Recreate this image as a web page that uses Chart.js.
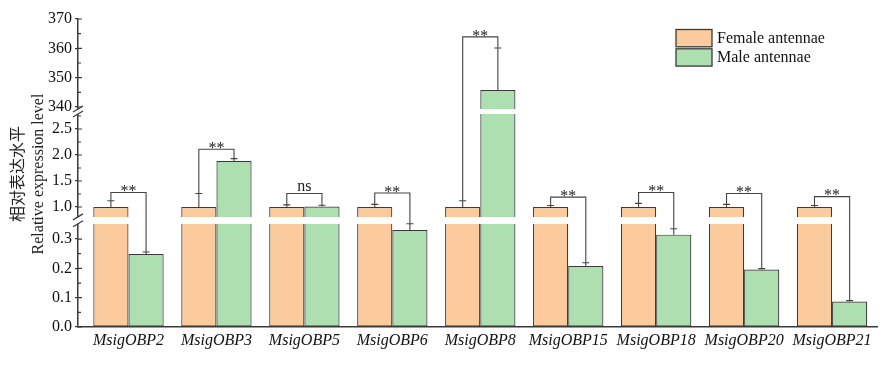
<!DOCTYPE html>
<html>
<head>
<meta charset="utf-8">
<script src="https://cdn.jsdelivr.net/npm/chart.js@4.4.0/dist/chart.umd.min.js"></script>
<style>
  html, body { margin: 0; padding: 0; background: #fff; }
  #wrap { width: 886px; height: 369px; }
</style>
</head>
<body>
<div id="wrap"><canvas id="obp_chart"></canvas></div>
<script>
var genes = ['MsigOBP2', 'MsigOBP3', 'MsigOBP5', 'MsigOBP6', 'MsigOBP8', 'MsigOBP15', 'MsigOBP18', 'MsigOBP20', 'MsigOBP21'];
var female = [1, 1, 1, 1, 1, 1, 1, 1, 1];
var femaleErr = [0.12, 0.26, 0.04, 0.05, 0.12, 0.03, 0.07, 0.05, 0.03];
var male = [0.249, 1.885, 1.01, 0.331, 345.8, 0.208, 0.315, 0.196, 0.087];
var maleErr = [0.007, 0.045, 0.025, 0.021, 14.3, 0.011, 0.02, 0.003, 0.003];
var bracketLevel = [1.28, 2.11, 1.26, 1.27, 363.9, 1.19, 1.28, 1.26, 1.2];
var signif = ['**', '**', 'ns', '**', '**', '**', '**', '**', '**'];

var botTicks = [0, 0.1, 0.2, 0.3];
var midTicks = [1.0, 1.5, 2.0, 2.5];
var topTicks = [340, 350, 360, 370];
var botMinor = [0.05, 0.15, 0.25];
var midMinor = [1.25, 1.75, 2.25, 2.75];
var topMinor = [345, 355, 365];

var femaleColour = '#fbcb9d';
var maleColour = '#aedfb1';
var lineColour = '#3a3a3a';

// the three pieces of the broken y axis (min/max of the scale, lo/hi = where bars are cut)
var segBot = { id: 'yBot', min: 0, max: 0.365, lo: 0, hi: 0.352, weight: 107 };
var segMid = { id: 'yMid', min: 0.75, max: 2.837, lo: 0.81, hi: 2.79, weight: 108.5 };
var segTop = { id: 'yTop', min: 338.47, max: 370, lo: 339.3, hi: Infinity, weight: 92.5 };
var segs = [segBot, segMid, segTop];

function segData(values, seg) {
  return values.map(function (v, i) {
    return { x: i, y: v > seg.lo ? [seg.lo, Math.min(v, seg.hi)] : null };
  });
}

var datasets = [];
[['Female antennae', female, femaleColour], ['Male antennae', male, maleColour]].forEach(function (s) {
  segs.forEach(function (seg) {
    datasets.push({
      label: s[0],
      stack: s[0],
      yAxisID: seg.id,
      data: segData(s[1], seg),
      backgroundColor: s[2],
      borderColor: lineColour,
      borderSkipped: false,
      borderWidth: function (ctx) {
        var v = s[1][ctx.dataIndex];
        return { top: v <= seg.hi ? 1.2 : 0, bottom: seg.lo === 0 ? 1.2 : 0, left: 1.2, right: 1.2 };
      },
      categoryPercentage: 0.8,
      barPercentage: 1.0
    });
  });
});

function yAxis(seg, ticks, fmt) {
  return {
    type: 'linear',
    position: 'left',
    stack: 'y',
    stackWeight: seg.weight,
    offset: false,
    min: seg.min,
    max: seg.max,
    border: { color: lineColour, width: 1.5 },
    grid: { drawOnChartArea: false, drawTicks: true, tickLength: 3, color: lineColour, lineWidth: 1.2 },
    ticks: {
      autoSkip: false,
      padding: 3,
      color: '#111',
      font: { family: 'Liberation Serif', size: 16 },
      callback: function (v) { return fmt(v); }
    },
    afterBuildTicks: function (s) { s.ticks = ticks.map(function (v) { return { value: v }; }); },
    afterFit: function (s) { s.width = 78; }
  };
}

function pyFor(chart) {
  var sb = chart.scales.yBot, sm = chart.scales.yMid, st = chart.scales.yTop;
  return function (v) {
    if (v <= segBot.max) return sb.getPixelForValue(v);
    if (v <= segMid.max) return sm.getPixelForValue(v);
    return st.getPixelForValue(v);
  };
}

var decor = {
  id: 'decor',
  afterDatasetsDraw: function (chart) {
    var ctx = chart.ctx;
    var py = pyFor(chart);
    var ax = chart.chartArea.left;
    ctx.save();

    // axis breaks
    var gaps = [
      [chart.scales.yTop.getPixelForValue(segTop.lo), chart.scales.yMid.getPixelForValue(segMid.hi)],
      [chart.scales.yMid.getPixelForValue(segMid.lo), chart.scales.yBot.getPixelForValue(segBot.hi)]
    ];
    ctx.fillStyle = '#fff';
    gaps.forEach(function (g) { ctx.fillRect(ax - 3, g[0], 6, g[1] - g[0]); });
    ctx.strokeStyle = lineColour;
    ctx.lineWidth = 1.2;
    gaps.forEach(function (g) {
      [g[0], g[1]].forEach(function (y) {
        ctx.beginPath();
        ctx.moveTo(ax - 5, y + 3);
        ctx.lineTo(ax + 5, y - 3);
        ctx.stroke();
      });
    });

    // inner ticks
    [['yBot', botTicks, botMinor], ['yMid', midTicks, midMinor], ['yTop', topTicks, topMinor]].forEach(function (a) {
      var sc = chart.scales[a[0]];
      ctx.beginPath();
      a[1].forEach(function (v) { var y = sc.getPixelForValue(v); ctx.moveTo(ax, y); ctx.lineTo(ax + 4, y); });
      a[2].forEach(function (v) { var y = sc.getPixelForValue(v); ctx.moveTo(ax, y); ctx.lineTo(ax + 3, y); });
      ctx.stroke();
    });

    // error bars and significance brackets
    var fMeta = chart.getDatasetMeta(0), mMeta = chart.getDatasetMeta(3);
    ctx.strokeStyle = '#444';
    ctx.lineWidth = 1.1;
    for (var i = 0; i < genes.length; i++) {
      var xf = fMeta.data[i].x, xm = mMeta.data[i].x;
      var fTop = py(female[i] + femaleErr[i]);
      var mTop = py(male[i] + maleErr[i]);
      ctx.beginPath();
      ctx.moveTo(xf, py(female[i])); ctx.lineTo(xf, fTop);
      ctx.moveTo(xf - 3.5, fTop); ctx.lineTo(xf + 3.5, fTop);
      ctx.moveTo(xm, py(male[i])); ctx.lineTo(xm, mTop);
      ctx.moveTo(xm - 3.5, mTop); ctx.lineTo(xm + 3.5, mTop);
      ctx.stroke();

      var yb = py(bracketLevel[i]);
      ctx.beginPath();
      ctx.moveTo(xf, fTop); ctx.lineTo(xf, yb); ctx.lineTo(xm, yb); ctx.lineTo(xm, mTop);
      ctx.stroke();

      ctx.fillStyle = '#222';
      ctx.textAlign = 'center';
      ctx.textBaseline = 'alphabetic';
      ctx.font = '16px "Liberation Serif"';
      if (signif[i] === 'ns') {
        ctx.fillText('ns', (xf + xm) / 2, yb - 2.6);
      } else {
        ctx.fillText(signif[i], (xf + xm) / 2, yb + 3.7);
      }
    }
    ctx.restore();
  },
  afterDraw: function (chart) {
    var ctx = chart.ctx;
    ctx.save();
    // legend
    var items = [['Female antennae', femaleColour], ['Male antennae', maleColour]];
    items.forEach(function (it, k) {
      var y = 29.5 + k * 19.3;
      ctx.fillStyle = it[1];
      ctx.fillRect(676, y, 36, 17.3);
      ctx.strokeStyle = lineColour;
      ctx.lineWidth = 1.3;
      ctx.strokeRect(676, y, 36, 17.3);
      ctx.fillStyle = '#111';
      ctx.font = '16px "Liberation Serif"';
      ctx.textAlign = 'left';
      ctx.textBaseline = 'middle';
      ctx.fillText(it[0], 717, y + 8.8);
    });
    // y axis title
    ctx.translate(0, 174);
    ctx.rotate(-Math.PI / 2);
    ctx.textAlign = 'center';
    ctx.textBaseline = 'middle';
    ctx.fillStyle = '#222';
    ctx.font = '16px "Noto Sans CJK SC"';
    ctx.fillText('相对表达水平', 0, 16.5);
    ctx.font = '16px "Liberation Serif"';
    ctx.fillText('Relative expression level', 0, 39);
    ctx.restore();
  }
};

var obpChart = new Chart(document.getElementById('obp_chart').getContext('2d'), {
  type: 'bar',
  data: { datasets: datasets },
  options: {
    responsive: true,
    maintainAspectRatio: false,
    animation: false,
    layout: { padding: { top: 19, right: 9, left: 0, bottom: 0 } },
    plugins: { legend: { display: false }, tooltip: { enabled: false } },
    scales: {
      x: {
        type: 'linear',
        offset: false,
        min: -0.574,
        max: 8.511,
        border: { color: lineColour, width: 1.5 },
        grid: { display: true, drawOnChartArea: false, drawTicks: false },
        ticks: {
          autoSkip: false,
          maxRotation: 0,
          padding: 4,
          color: '#111',
          font: { family: 'Liberation Serif', size: 16, style: 'italic' },
          callback: function (v) { return genes[v]; }
        },
        afterBuildTicks: function (s) { s.ticks = genes.map(function (g, i) { return { value: i }; }); },
        afterFit: function (s) { s.height = 42; }
      },
      yBot: yAxis(segBot, botTicks, function (v) { return v.toFixed(1); }),
      yMid: yAxis(segMid, midTicks, function (v) { return v.toFixed(1); }),
      yTop: yAxis(segTop, topTicks, function (v) { return String(Math.round(v)); })
    }
  },
  plugins: [decor]
});
</script>
</body>
</html>
